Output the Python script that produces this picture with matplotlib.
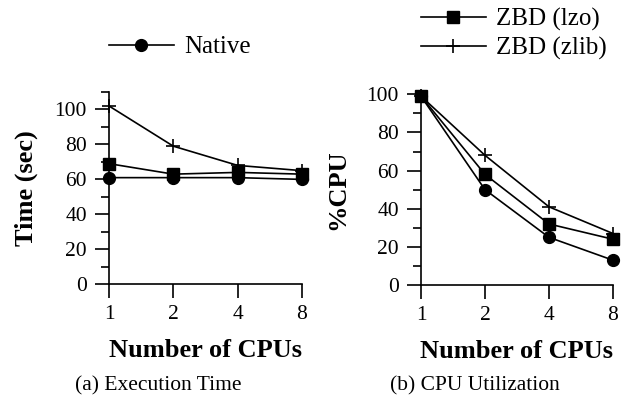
import matplotlib
matplotlib.use("Agg")
import matplotlib.pyplot as plt
from matplotlib.ticker import FixedLocator, MultipleLocator, NullFormatter

plt.rcParams['font.family'] = ['Liberation Serif', 'DejaVu Serif']

# Data
cpus = [1, 2, 4, 8]
time_native = [61, 61, 61, 60]
time_lzo = [69, 63, 64, 63]
time_zlib = [102, 79, 68, 65]
cpu_native = [99, 50, 25, 13]
cpu_lzo = [99, 58, 32, 24]
cpu_zlib = [99, 68, 41, 27]

series_labels = ['Native', 'ZBD (lzo)', 'ZBD (zlib)']
captions = ['(a) Execution Time', '(b) CPU Utilization']

fig = plt.figure(figsize=(6.26, 3.98), dpi=100)
ax1 = fig.add_axes([0.1741, 0.2857, 0.3083, 0.4832])
ax2 = fig.add_axes([0.6725, 0.2839, 0.3067, 0.4792])

styles = [
    dict(marker='o', markersize=8.5),
    dict(marker='s', markersize=8),
    dict(marker='+', markersize=10, markeredgewidth=1.2),
]


def draw_panel(ax, series, ymax, ylabel):
    handles = []
    for values, st, lab in zip(series, styles, series_labels):
        h, = ax.plot(cpus, values, color='black', lw=1.2, label=lab,
                     clip_on=False, zorder=3, **st)
        handles.append(h)
    ax.set_xscale('log', base=2)
    ax.set_xlim(1, 8)
    ax.set_ylim(0, ymax)
    ax.xaxis.set_major_locator(FixedLocator(cpus))
    ax.set_xticklabels([str(c) for c in cpus])
    ax.xaxis.set_minor_locator(FixedLocator([]))
    ax.xaxis.set_minor_formatter(NullFormatter())
    ax.yaxis.set_major_locator(MultipleLocator(20))
    ax.yaxis.set_minor_locator(MultipleLocator(10))
    ax.spines['top'].set_visible(False)
    ax.spines['right'].set_visible(False)
    for s in ('left', 'bottom'):
        ax.spines[s].set_linewidth(1.2)
    ax.tick_params(which='major', direction='out', length=10, width=1.2,
                   labelsize=15.5)
    ax.tick_params(axis='y', which='major', pad=6)
    ax.tick_params(axis='x', which='major', pad=5)
    ax.tick_params(which='minor', direction='out', length=6, width=1.2)
    ax.set_xlabel('Number of CPUs', fontsize=19, fontweight='bold', labelpad=11)
    ax.set_ylabel(ylabel, fontsize=19, fontweight='bold', labelpad=12)
    ax.patch.set_visible(False)
    return handles


h1 = draw_panel(ax1, [time_native, time_lzo, time_zlib], 110, 'Time (sec)')
h2 = draw_panel(ax2, [cpu_native, cpu_lzo, cpu_zlib], 100, '%CPU')

leg_kw = dict(frameon=False, fontsize=18, handlelength=2.6, handletextpad=0.4,
              borderpad=0, borderaxespad=0, labelspacing=0.25, loc='upper left')
fig.legend([h1[0]], [series_labels[0]], bbox_to_anchor=(0.174, 0.91), **leg_kw)
fig.legend(h1[1:], series_labels[1:], bbox_to_anchor=(0.672, 0.98), **leg_kw)

fig.text(0.252, 0.03, captions[0], ha='center', va='center', fontsize=15.5)
fig.text(0.759, 0.03, captions[1], ha='center', va='center', fontsize=15.5)

fig.savefig('out.png', dpi=100)
